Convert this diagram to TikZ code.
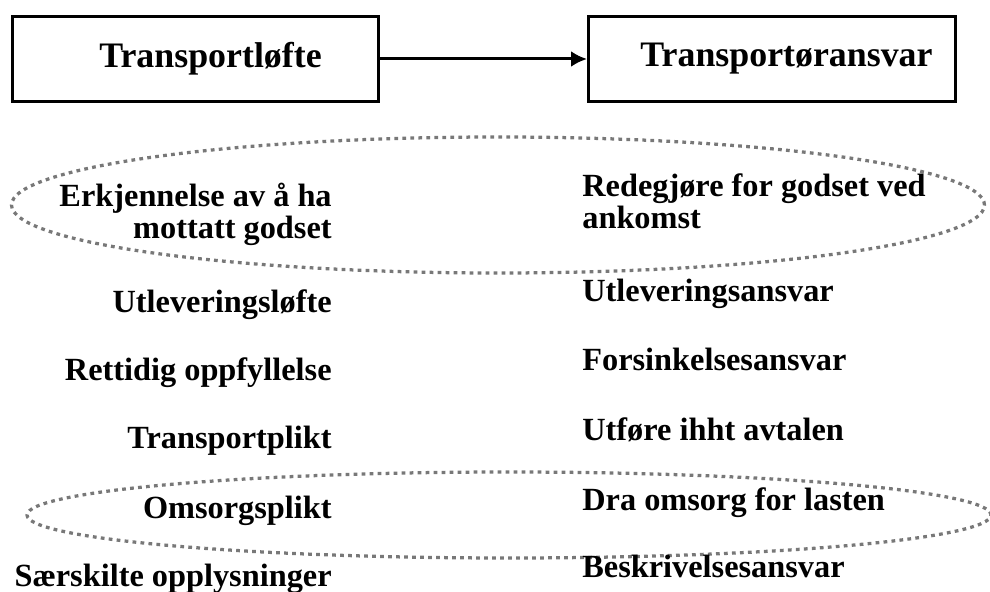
\documentclass[tikz,border=0pt]{standalone}
\usepackage{fontspec}
\setmainfont{Liberation Serif}
\usetikzlibrary{arrows.meta}
\definecolor{ringgray}{RGB}{120,120,120}
\begin{document}
\begin{tikzpicture}[
    headbox/.style = {draw, line width=0.06cm, minimum width=7.32cm, minimum height=1.70cm, inner sep=0pt, font=\bfseries\fontsize{20.4}{22}\selectfont},
    duty/.style = {anchor=base east, align=right, inner sep=0pt, font=\bfseries\fontsize{18.4}{18.6}\selectfont},
    liab/.style = {anchor=base west, align=left, inner sep=0pt, font=\bfseries\fontsize{18.4}{18.6}\selectfont},
    ring/.style = {draw=ringgray, line width=0.065cm, dash pattern=on 0.075cm off 0.085cm}
]
    \useasboundingbox (0,0) rectangle (19.8,-11.84);
    \node[headbox] (loefte) at (3.91,-1.18) {\hspace*{0.6cm}Transportløfte};
    \node[headbox, minimum width=7.34cm] (ansvar) at (15.44,-1.18) {\hspace*{0.58cm}Transportøransvar};
    \draw[-{Latex[length=0.32cm,width=0.32cm]}, line width=0.06cm] (loefte) -- (ansvar);

    \draw[ring] (9.96,-4.10) ellipse (9.73 and 1.36);
    \draw[ring] (10.18,-10.30) ellipse (9.64 and 0.86);

    \node[duty] (erkj) at (6.64,-4.78) {Erkjennelse av å ha\\mottatt godset};
    \node[duty] (utlev) at (6.64,-6.24) {Utleveringsløfte};
    \node[duty] (rettid) at (6.64,-7.60) {Rettidig oppfyllelse};
    \node[duty] (transp) at (6.64,-8.96) {Transportplikt};
    \node[duty] (omsorg) at (6.64,-10.36) {Omsorgsplikt};
    \node[duty] (saerskilt) at (6.64,-11.72) {Særskilte opplysninger};

    \node[liab] (redeg) at (11.64,-4.58) {Redegjøre for godset ved\\ankomst};
    \node[liab] (utlevansv) at (11.64,-6.02) {Utleveringsansvar};
    \node[liab] (forsink) at (11.64,-7.40) {Forsinkelsesansvar};
    \node[liab] (utfore) at (11.64,-8.80) {Utføre ihht avtalen};
    \node[liab] (dra) at (11.64,-10.20) {Dra omsorg for lasten};
    \node[liab] (beskriv) at (11.64,-11.54) {Beskrivelsesansvar};
\end{tikzpicture}
\end{document}
